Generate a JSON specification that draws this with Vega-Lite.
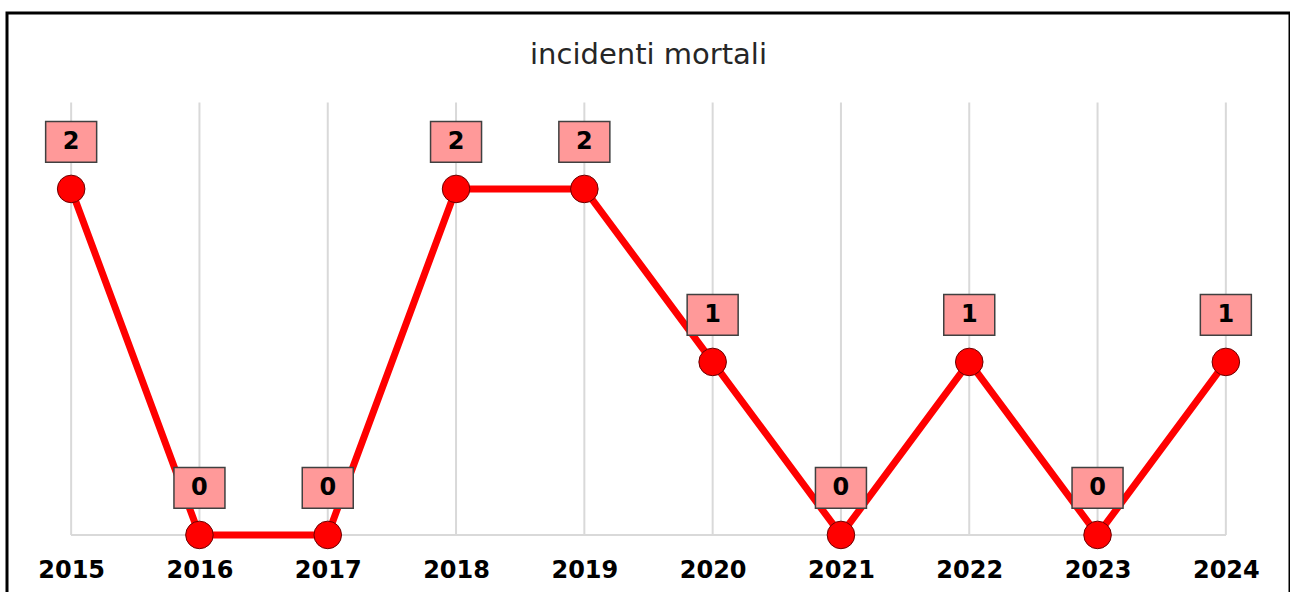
{
  "$schema": "https://vega.github.io/schema/vega-lite/v6.json",
  "autosize": {"type": "none"},
  "padding": {"left": 7, "top": 13, "right": 0, "bottom": 0},
  "width": 1283,
  "height": 592,
  "background": "white",
  "config": {"view": {"stroke": "black", "strokeWidth": 3}},
  "title": {
    "text": "incidenti mortali",
    "font": "DejaVu Sans",
    "fontSize": 29,
    "fontWeight": "normal",
    "color": "#262626",
    "anchor": "middle",
    "baseline": "alphabetic",
    "offset": -80
  },
  "data": {
    "values": [
      {"year": "2015", "value": 2},
      {"year": "2016", "value": 0},
      {"year": "2017", "value": 0},
      {"year": "2018", "value": 2},
      {"year": "2019", "value": 2},
      {"year": "2020", "value": 1},
      {"year": "2021", "value": 0},
      {"year": "2022", "value": 1},
      {"year": "2023", "value": 0},
      {"year": "2024", "value": 1}
    ]
  },
  "encoding": {
    "x": {
      "field": "year",
      "type": "ordinal",
      "scale": {"type": "point", "padding": 0.5},
      "axis": {
        "title": null,
        "orient": "bottom",
        "offset": -28,
        "labelPadding": 0,
        "ticks": false,
        "domain": false,
        "grid": false,
        "labelAngle": 0,
        "labelBaseline": "alphabetic",
        "labelFont": "DejaVu Sans",
        "labelFontWeight": "bold",
        "labelFontSize": 24,
        "labelColor": "#000000"
      }
    }
  },
  "layer": [
    {
      "mark": {"type": "rule", "color": "#D9D9D9", "strokeWidth": 2},
      "encoding": {
        "y": {"datum": 0, "type": "quantitative", "scale": {"domain": [-0.405, 3.017], "nice": false, "zero": false}, "axis": null},
        "y2": {"datum": 2.5}
      }
    },
    {
      "mark": {"type": "rule", "color": "#D9D9D9", "strokeWidth": 2},
      "encoding": {
        "x": {"datum": "2015", "type": "ordinal"},
        "x2": {"datum": "2024"},
        "y": {"datum": 0, "type": "quantitative"}
      }
    },
    {
      "mark": {"type": "line", "color": "#FF0000", "strokeWidth": 7},
      "encoding": {
        "y": {"field": "value", "type": "quantitative"}
      }
    },
    {
      "mark": {"type": "point", "shape": "circle", "filled": true, "size": 760, "fill": "#FF0000", "stroke": "#6B0000", "strokeWidth": 1, "opacity": 1},
      "encoding": {
        "y": {"field": "value", "type": "quantitative"}
      }
    },
    {
      "mark": {"type": "point", "shape": "M-1,-0.8L1,-0.8L1,0.8L-1,0.8Z", "filled": true, "size": 2601, "fill": "#FF9999", "stroke": "#404040", "strokeWidth": 1.5, "opacity": 1},
      "encoding": {
        "y": {"field": "value", "type": "quantitative"},
        "yOffset": {"value": -47}
      }
    },
    {
      "mark": {"type": "text", "font": "DejaVu Sans", "fontWeight": "bold", "fontSize": 24, "color": "#000000", "baseline": "middle", "align": "center"},
      "encoding": {
        "y": {"field": "value", "type": "quantitative"},
        "yOffset": {"value": -47},
        "text": {"field": "value", "type": "quantitative"}
      }
    }
  ]
}
